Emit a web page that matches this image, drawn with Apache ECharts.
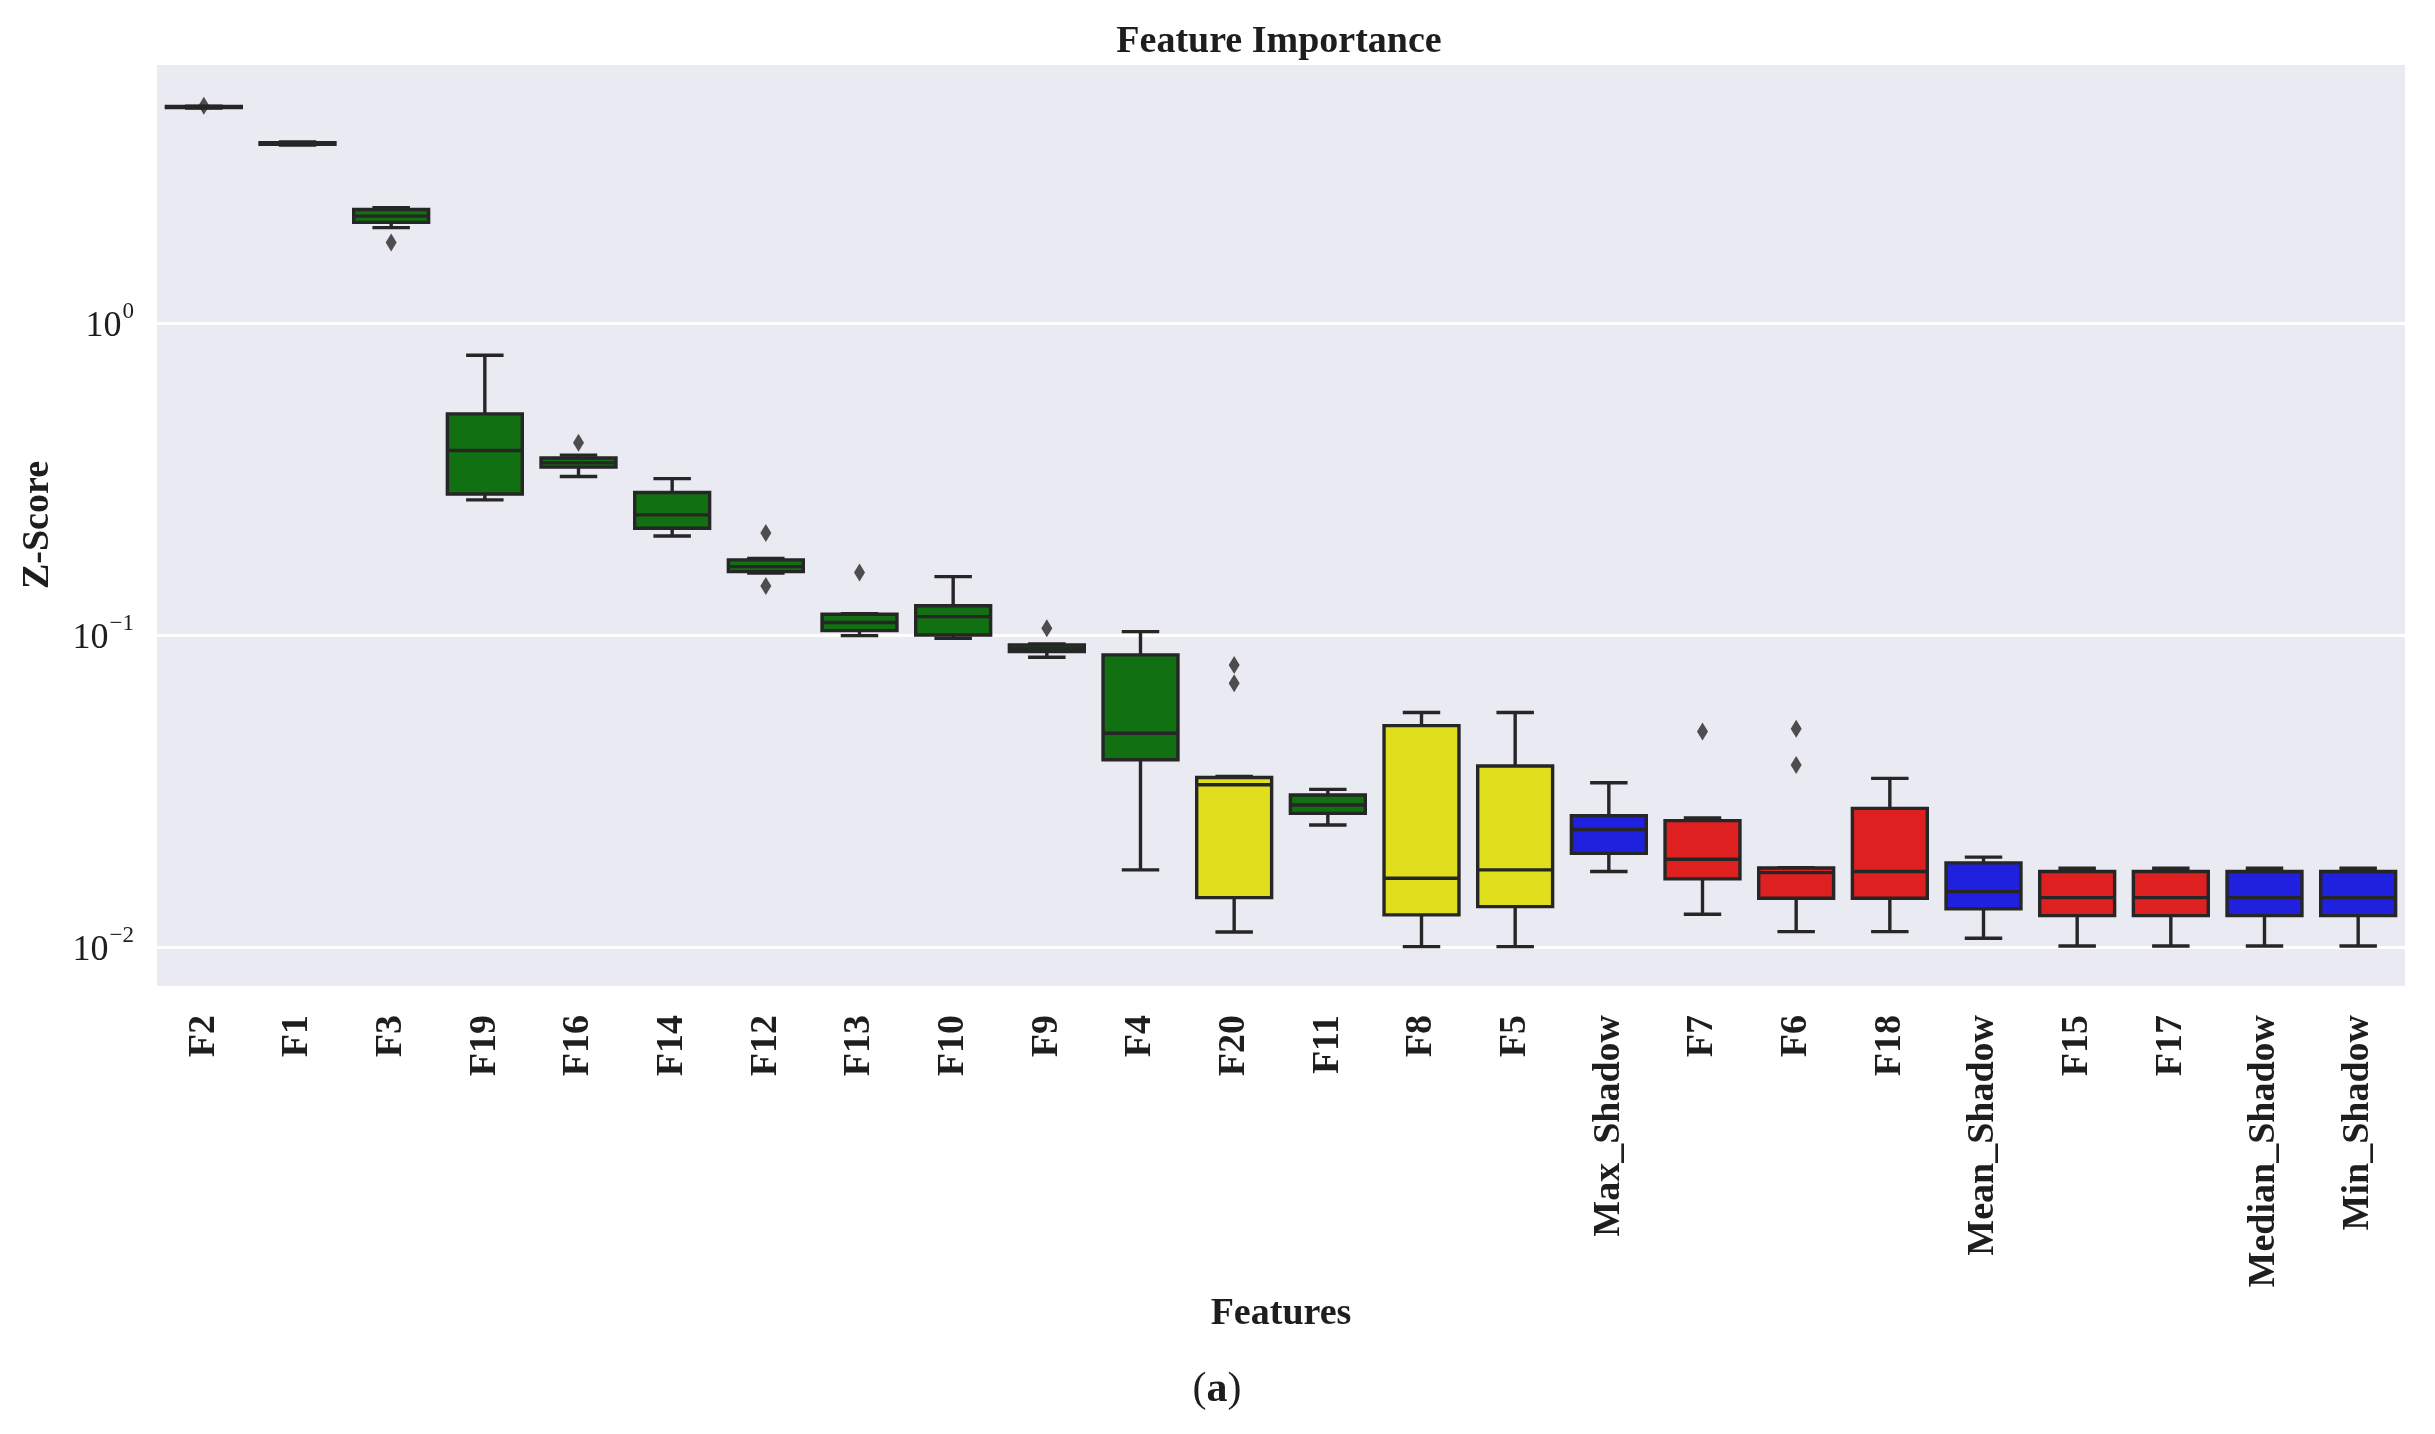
<!DOCTYPE html>
<html>
<head>
<meta charset="utf-8">
<script src="https://cdn.jsdelivr.net/npm/echarts@6/dist/echarts.min.js"></script>
<style>
  html, body { margin: 0; padding: 0; background: #ffffff; }
  #chart { width: 2435px; height: 1434px; }
</style>
</head>
<body>
<div id="chart"></div>
<script>
// ---- data ----
const categories = ['F2','F1','F3','F19','F16','F14','F12','F13','F10','F9','F4','F20','F11','F8','F5',
  'Max_Shadow','F7','F6','F18','Mean_Shadow','F15','F17','Median_Shadow','Min_Shadow'];

const whiskerLow = [4.88, 3.72, 2.02, 0.271, 0.322, 0.2076, 0.158, 0.0995, 0.0976, 0.0848, 0.01766, 0.01117, 0.0246, 0.01002, 0.01002,
  0.01744, 0.01273, 0.0112, 0.0112, 0.01066, 0.01007, 0.01007, 0.01007, 0.01007];
const quartile1 = [4.90, 3.74, 2.10, 0.283, 0.345, 0.2198, 0.1596, 0.1032, 0.100, 0.0884, 0.0398, 0.01439, 0.0268, 0.01267, 0.01346,
  0.01995, 0.01652, 0.01432, 0.01432, 0.01324, 0.0126, 0.0126, 0.0126, 0.0126];
const medians = [4.92, 3.76, 2.20, 0.390, 0.356, 0.2425, 0.1656, 0.1096, 0.1145, 0.0906, 0.0484, 0.0331, 0.0285, 0.0166, 0.01766,
  0.0238, 0.0191, 0.0173, 0.01744, 0.01504, 0.01439, 0.01439, 0.01439, 0.01439];
const quartile3 = [4.94, 3.78, 2.31, 0.511, 0.369, 0.286, 0.174, 0.1165, 0.124, 0.0929, 0.0863, 0.0349, 0.0307, 0.0512, 0.038,
  0.02636, 0.0254, 0.0179, 0.0278, 0.0186, 0.01744, 0.01744, 0.01744, 0.01744];
const whiskerHigh = [4.95, 3.80, 2.34, 0.788, 0.377, 0.317, 0.176, 0.117, 0.1538, 0.0935, 0.1025, 0.0352, 0.032, 0.0564, 0.0564,
  0.0336, 0.0259, 0.01796, 0.0347, 0.0194, 0.01787, 0.01787, 0.01787, 0.01787];
const boxColorNames = ['green','green','green','green','green','green','green','green','green','green','green','yellow','green','yellow','yellow',
  'blue','red','red','red','blue','red','red','blue','blue'];

const outlierCategories = ['F2','F3','F16','F12','F12','F13','F9','F20','F20','F7','F6','F6'];
const outlierValues = [4.97, 1.81, 0.413, 0.212, 0.1436, 0.1585, 0.105, 0.0801, 0.070, 0.049, 0.050, 0.0383];

// ---- styling ----
const palette = { green: '#117011', yellow: '#DFDF1E', red: '#DF2020', blue: '#2020DF' };
const lineColor = '#262626';
const textColor = '#1e1e1e';
const serif = "'Liberation Serif', 'Times New Roman', serif";

const boxData = categories.map((c, i) => [i, whiskerLow[i], quartile1[i], medians[i], quartile3[i], whiskerHigh[i]]);
const outlierData = outlierCategories.map((c, i) => [categories.indexOf(c), outlierValues[i]]);

function renderBox(params, api) {
  const idx = api.value(0);
  const band = api.size([1, 0])[0];
  const bw = band * 0.8, cw = band * 0.4;
  const pMin = api.coord([idx, api.value(1)]);
  const pQ1 = api.coord([idx, api.value(2)]);
  const pMed = api.coord([idx, api.value(3)]);
  const pQ3 = api.coord([idx, api.value(4)]);
  const pMax = api.coord([idx, api.value(5)]);
  const x = pMin[0];
  const fill = palette[boxColorNames[params.dataIndex]];
  const ls = { stroke: lineColor, lineWidth: 3.4 };
  return {
    type: 'group',
    children: [
      { type: 'line', shape: { x1: x, y1: pMax[1], x2: x, y2: pQ3[1] }, style: ls },
      { type: 'line', shape: { x1: x, y1: pQ1[1], x2: x, y2: pMin[1] }, style: ls },
      { type: 'line', shape: { x1: x - cw / 2, y1: pMax[1], x2: x + cw / 2, y2: pMax[1] }, style: ls },
      { type: 'line', shape: { x1: x - cw / 2, y1: pMin[1], x2: x + cw / 2, y2: pMin[1] }, style: ls },
      { type: 'rect', shape: { x: x - bw / 2, y: pQ3[1], width: bw, height: Math.max(pQ1[1] - pQ3[1], 0.5) },
        style: { fill: fill, stroke: lineColor, lineWidth: 3.4 } },
      { type: 'line', shape: { x1: x - bw / 2, y1: pMed[1], x2: x + bw / 2, y2: pMed[1] }, style: ls }
    ]
  };
}

const chart = echarts.init(document.getElementById('chart'), null, { renderer: 'canvas' });
chart.setOption({
  backgroundColor: '#ffffff',
  animation: false,
  title: [
    { text: 'Feature Importance', left: 1274, top: 18, textAlign: 'center',
      textStyle: { fontFamily: serif, fontWeight: 'bold', fontSize: 38, color: textColor } },
    { text: '{p|(}{b|a}{p|)}', left: 1212, top: 1364, textAlign: 'center',
      textStyle: { rich: {
        p: { fontFamily: serif, fontSize: 42, fontWeight: 'normal', color: textColor },
        b: { fontFamily: serif, fontSize: 42, fontWeight: 'bold', color: textColor } } } }
  ],
  grid: { left: 157, right: 30, top: 63, bottom: 447, show: true, backgroundColor: '#EAEAF2', borderWidth: 0 },
  xAxis: {
    type: 'category',
    data: categories,
    boundaryGap: true,
    axisLine: { show: false },
    axisTick: { show: false },
    splitLine: { show: false },
    axisLabel: { rotate: 90, interval: 0, margin: 28, fontFamily: serif, fontWeight: 'bold', fontSize: 38, color: textColor },
    name: 'Features',
    nameLocation: 'middle',
    nameGap: 300,
    nameTextStyle: { fontFamily: serif, fontWeight: 'bold', fontSize: 38, color: textColor }
  },
  yAxis: {
    type: 'log',
    logBase: 10,
    min: 0.00744,
    max: 6.81,
    axisLine: { show: false },
    axisTick: { show: false },
    splitLine: { show: true, lineStyle: { color: '#ffffff', width: 3 } },
    axisLabel: {
      margin: 23,
      formatter: function (v) {
        const l = Math.log10(v);
        const e = Math.round(l);
        if (Math.abs(l - e) > 1e-6) return '';
        const sup = e < 0 ? '\u2212' + (-e) : '' + e;
        return '{b|10}{s|' + sup + '}';
      },
      rich: {
        b: { fontFamily: serif, fontSize: 36, color: textColor, verticalAlign: 'bottom', lineHeight: 44, padding: [14, 0, 0, 0] },
        s: { fontFamily: serif, fontSize: 23, color: textColor, verticalAlign: 'top', lineHeight: 44, padding: [0, 0, 16, 1] }
      }
    },
    name: 'Z-Score',
    nameLocation: 'middle',
    nameGap: 100,
    nameTextStyle: { fontFamily: serif, fontWeight: 'bold', fontSize: 38, color: textColor }
  },
  series: [
    {
      type: 'custom',
      name: 'boxes',
      renderItem: renderBox,
      encode: { x: 0, y: [1, 2, 3, 4, 5] },
      data: boxData,
      z: 2
    },
    {
      type: 'scatter',
      name: 'outliers',
      symbol: 'diamond',
      symbolSize: [11, 18],
      itemStyle: { color: lineColor },
      data: outlierData,
      z: 3
    }
  ]
});
</script>
</body>
</html>
